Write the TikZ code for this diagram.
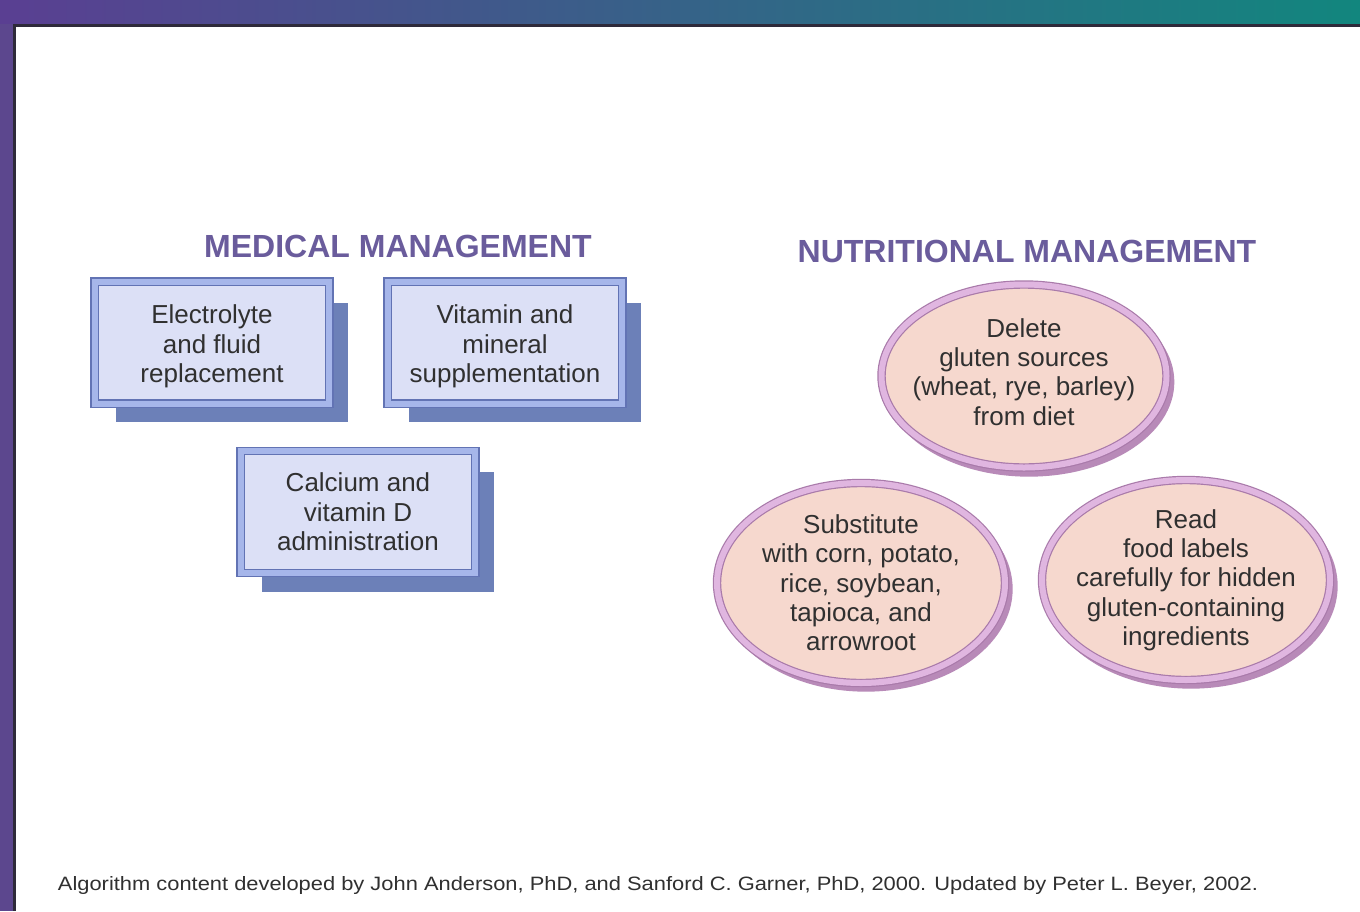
\documentclass[tikz,border=0pt]{standalone}
\usepackage{fontspec}
\setmainfont{Liberation Sans}
\usetikzlibrary{calc,shapes.geometric,backgrounds}

\definecolor{bandL}{HTML}{5A3F92}
\definecolor{bandR}{HTML}{12867E}
\definecolor{sideband}{HTML}{5C478E}
\definecolor{edge}{HTML}{2E2A3A}
\definecolor{titlecol}{HTML}{6A5C9C}
\definecolor{boxfill}{HTML}{DCE0F6}
\definecolor{boxring}{HTML}{A6B6EA}
\definecolor{boxline}{HTML}{6273B4}
\definecolor{boxshadow}{HTML}{6C80B8}
\definecolor{ovalfill}{HTML}{F6D8CE}
\definecolor{ovalring}{HTML}{E0B6E0}
\definecolor{ovalline}{HTML}{A97AAA}
\definecolor{ovalshadow}{HTML}{B88AB8}
\definecolor{ink}{HTML}{303030}

\tikzset{
  bodytext/.style={text=ink, align=center, font=\fontsize{19.5}{22}\selectfont},
  mgmtbox/.style={draw=boxline, line width=0.9pt, double=boxring,
    double distance=4.5pt, fill=boxfill, minimum width=176pt,
    minimum height=91.5pt, inner sep=0pt},
  dietoval/.style={ellipse, draw=ovalline, line width=0.9pt, double=ovalring,
    double distance=4.5pt, fill=ovalfill, inner sep=0pt},
  heading/.style={text=titlecol, font=\fontsize{24}{28}\selectfont\bfseries},
}

\begin{document}
\begin{tikzpicture}[x=0.75pt,y=-0.75pt]
\useasboundingbox (0,0) rectangle (1360,911);

% section headings
\node[heading] (medhead) at (398,246) {MEDICAL MANAGEMENT};
\node[heading] (nuthead) at (1027,251) {NUTRITIONAL MANAGEMENT};

% medical management boxes
\node[mgmtbox, label={[bodytext, yshift=-3pt]center:Electrolyte\\and fluid\\replacement}]
  (elec) at (212,342.5) {};
\node[mgmtbox, label={[bodytext, yshift=-3pt]center:Vitamin and\\mineral\\supplementation}]
  (vita) at (505,342.5) {};
\node[mgmtbox, label={[bodytext]center:Calcium and\\vitamin D\\administration}]
  (calc) at (358,512) {};

% nutritional management ovals
\node[dietoval, minimum width=213.75pt, minimum height=137.25pt,
  label={[bodytext, yshift=3pt]center:Delete\\gluten sources\\(wheat, rye, barley)\\from diet}]
  (delete) at (1024,376) {};
\node[dietoval, minimum width=216pt, minimum height=150pt,
  label={[bodytext]center:Substitute\\with corn, potato,\\rice, soybean,\\tapioca, and\\arrowroot}]
  (subst) at (861,583) {};
\node[dietoval, minimum width=216pt, minimum height=150pt,
  label={[bodytext]center:Read\\food labels\\carefully for hidden\\gluten-containing\\ingredients}]
  (labels) at (1186,580) {};

% credit line
\node[text=ink, font=\fontsize{14.5}{17}\selectfont] (credit) at (658,885)
  {\resizebox{900pt}{\height}{Algorithm content developed by John Anderson, PhD, and Sanford C. Garner, PhD, 2000. Updated by Peter L. Beyer, 2002.}};

\begin{scope}[on background layer]
  % slide frame
  \fill[white] (0,0) rectangle (1360,911);
  \shade[left color=bandL, right color=bandR] (0,0) rectangle (1360,24);
  \fill[sideband] (0,24) rectangle (13,911);
  \fill[edge] (13,24) rectangle (16,911);
  \fill[edge] (13,24) rectangle (1360,27);
  % box shadows
  \foreach \b in {elec,vita,calc}
    \fill[boxshadow] ($(\b.north west)+(22,22)$) rectangle ($(\b.south east)+(18,18)$);
  % oval shadows
  \fill[ovalshadow] ($(delete.center)+(5,6)$) ellipse [x radius=109pt, y radius=71pt];
  \fill[ovalshadow] ($(subst.center)+(5,6)$) ellipse [x radius=110pt, y radius=77pt];
  \fill[ovalshadow] ($(labels.center)+(5,6)$) ellipse [x radius=110pt, y radius=77pt];
\end{scope}
\end{tikzpicture}
\end{document}
